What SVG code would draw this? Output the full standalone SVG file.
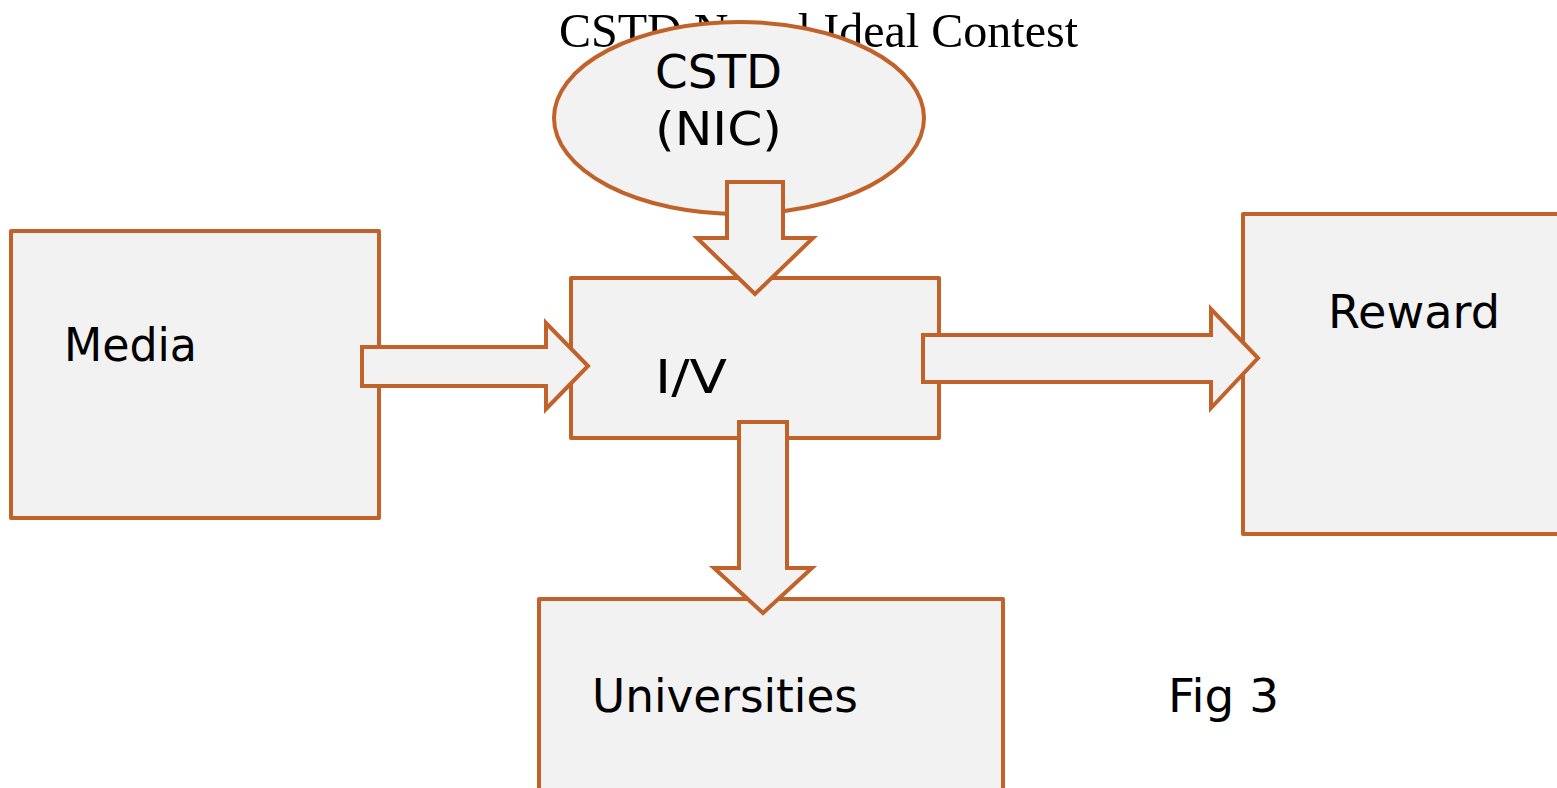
<svg xmlns="http://www.w3.org/2000/svg" width="1557" height="788" viewBox="0 0 1557 788">
<style>
.box{fill:#F2F2F2;stroke:#C0622A;stroke-width:4;stroke-linejoin:round}
.arrow{fill:#F2F2F2;stroke:#C0622A;stroke-width:4;stroke-linejoin:miter}
.lbl{font-family:"DejaVu Sans","Noto Sans",sans-serif;font-size:47px;fill:#000}
.title{font-family:"Liberation Serif","Times New Roman",serif;font-size:48px;fill:#000}
</style>
<rect width="1557" height="788" fill="#fff"/>
<text class="title" x="559" y="47" textLength="519" lengthAdjust="spacingAndGlyphs">CSTD Novel Ideal Contest</text>
<g id="media">
<rect class="box" x="11" y="231" width="368" height="287"/>
<text class="lbl" x="64" y="361" textLength="133" lengthAdjust="spacingAndGlyphs">Media</text>
</g>
<g id="iv">
<rect class="box" x="571" y="278" width="368" height="160"/>
<text class="lbl" x="655" y="393" textLength="72" lengthAdjust="spacingAndGlyphs">I/V</text>
</g>
<g id="reward">
<rect class="box" x="1243" y="214" width="330" height="320"/>
<text class="lbl" x="1328" y="328" textLength="172" lengthAdjust="spacingAndGlyphs">Reward</text>
</g>
<g id="universities">
<rect class="box" x="539" y="599" width="464" height="210"/>
<text class="lbl" x="592" y="712" textLength="266" lengthAdjust="spacingAndGlyphs">Universities</text>
</g>
<g id="fig">
<text class="lbl" x="1168" y="712" textLength="111" lengthAdjust="spacingAndGlyphs">Fig 3</text>
</g>
<g id="cstd">
<ellipse class="box" cx="739" cy="118" rx="185" ry="96"/>
<text class="lbl" x="655" y="88" textLength="127" lengthAdjust="spacingAndGlyphs">CSTD</text>
<text class="lbl" x="655" y="145" textLength="127" lengthAdjust="spacingAndGlyphs">(NIC)</text>
</g>
<g id="connectors">
<polygon class="arrow" points="727,182 783,182 783,238 813,238 755,294 697,238 727,238"/>
<polygon class="arrow" points="362,347 546,347 546,323 588,366 546,409 546,386 362,386"/>
<polygon class="arrow" points="923,335 1211,335 1211,309 1258,358 1211,408 1211,382 923,382"/>
<polygon class="arrow" points="739,422 787,422 787,568 812,568 763,613 714,568 739,568"/>
</g>
</svg>
